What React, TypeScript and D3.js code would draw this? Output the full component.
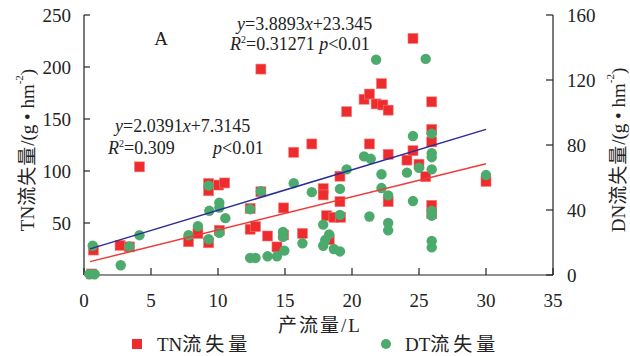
import React from "react";
import * as d3 from "d3";

// TN loss (left axis): runoff x (L), TN (g·hm-2)
const tnX = [0.57, 0.7, 2.69, 3.39, 4.14, 7.8, 8.5, 9.3, 9.3, 10.05, 10.5, 9.3, 10.1, 12.4, 12.4, 12.8, 13.2, 13.7, 14.4, 14.9, 14.9, 16.3, 15.65, 13.2, 17.0, 17.85, 17.85, 18.1, 18.65, 19.15, 18.3, 19.1, 19.1, 19.6, 20.9, 21.3, 21.8, 22.2, 22.3, 22.7, 21.3, 22.7, 22.7, 24.1, 24.55, 24.55, 25.0, 25.5, 25.95, 25.95, 25.95, 25.95, 25.95, 30.0];
const tnY = [1, 24, 28.5, 27, 104, 32, 40, 88, 81, 86.5, 88.5, 31, 43, 64, 44, 46.5, 80, 37.5, 27, 64.5, 38.5, 40, 118, 198, 126, 83, 77, 57, 55.5, 55.5, 34, 95, 70.5, 157, 169, 174, 164.5, 184, 163.5, 158.5, 126, 116, 70.5, 110.5, 119.5, 227.5, 106.5, 94.5, 166.5, 140, 128, 67, 59, 90];

// DN loss (right axis)
const dnX = [0.4, 0.8, 0.65, 2.74, 3.39, 4.14, 7.8, 8.5, 9.3, 9.35, 9.3, 10.1, 10.1, 10.55, 10.1, 12.4, 13.2, 12.4, 12.8, 13.7, 14.4, 14.85, 14.85, 14.95, 15.65, 16.3, 17.0, 17.85, 18.3, 18.0, 17.85, 18.65, 19.1, 19.1, 19.1, 19.6, 20.9, 21.4, 21.3, 21.8, 22.2, 22.2, 22.7, 22.7, 22.7, 24.1, 24.55, 24.55, 25.0, 25.5, 25.95, 25.95, 25.95, 25.95, 25.95, 25.95, 25.95, 25.95, 30.0];
const dnY = [0.5, 0.5, 18, 6, 17.5, 24.5, 24.5, 30, 55, 39.5, 22, 44.5, 41.5, 35, 26, 40.5, 51.5, 10.5, 10.5, 11.5, 11.5, 26.5, 23.5, 15, 56.5, 19.5, 51, 31, 25, 21.5, 18, 16, 14.5, 53, 37, 65, 73, 71.5, 36, 132.5, 62, 53.5, 49, 32, 27.5, 63, 85.5, 45.5, 66, 133, 87, 75, 72.5, 65, 39.5, 36.5, 21, 17, 61.5];

const xTicks = [0, 5, 10, 15, 20, 25, 30, 35];
const tnTicks = [50, 100, 150, 200, 250];
const dnTicks = [0, 40, 80, 120, 160];

const tnFit = { slope: 3.8893, intercept: 23.345 };
const dnFit = { slope: 2.0391, intercept: 7.3145 };

const RED = "#ee2b2d";
const GREEN = "#4caa6d";
const BLUE = "#2b2b9a";
const FONT = "'Liberation Serif', 'Noto Sans CJK SC', serif";

export default function App() {
  const left = 84, right = 553, top = 15, bottom = 275;
  const x = d3.scaleLinear().domain([0, 35]).range([left, right]);
  const yL = d3.scaleLinear().domain([0, 250]).range([bottom, top]);
  const yR = d3.scaleLinear().domain([0, 160]).range([bottom, top]);

  const allX = [...tnX, ...dnX];
  const [x0, x1] = d3.extent(allX) as [number, number];
  const xs = [Math.max(x0, 0.45), x1];
  const tnLine = d3.line<number>().x((v) => x(v)).y((v) => yL(tnFit.slope * v + tnFit.intercept));
  const dnLine = d3.line<number>().x((v) => x(v)).y((v) => yR(dnFit.slope * v + dnFit.intercept));

  const sq = 10;
  const fs = 19;

  return (
    <svg width={630} height={356} style={{ position: "absolute", left: 0, top: 0, background: "#fff" }} fontFamily={FONT}>
      {/* axes */}
      <line x1={left} x2={left} y1={top} y2={bottom} stroke="#222" strokeWidth={1.2} />
      <line x1={right} x2={right} y1={top} y2={bottom} stroke="#222" strokeWidth={1.2} />
      <line x1={left} x2={right} y1={bottom} y2={bottom} stroke="#222" strokeWidth={1.2} />
      {tnTicks.map((t) => (
        <g key={"l" + t}>
          <line x1={left} x2={left + 6} y1={yL(t)} y2={yL(t)} stroke="#222" strokeWidth={1.2} />
          <text x={left - 13} y={yL(t)} textAnchor="end" dominantBaseline="central" fontSize={fs} fill="#222">{t}</text>
        </g>
      ))}
      {dnTicks.map((t) => (
        <g key={"r" + t}>
          <line x1={right - 7} x2={right} y1={yR(t)} y2={yR(t)} stroke="#222" strokeWidth={1.2} />
          <text x={right + 14} y={yR(t)} textAnchor="start" dominantBaseline="central" fontSize={fs} fill="#222">{t}</text>
        </g>
      ))}
      {xTicks.map((t) => (
        <g key={"x" + t}>
          <line x1={x(t)} x2={x(t)} y1={bottom - 7} y2={bottom} stroke="#222" strokeWidth={1.2} />
          <text x={x(t)} y={300} textAnchor="middle" dominantBaseline="central" fontSize={fs} fill="#222">{t}</text>
        </g>
      ))}

      {/* points */}
      {tnX.map((v, i) => (
        <rect key={"tn" + i} x={x(v) - sq / 2} y={yL(tnY[i]) - sq / 2} width={sq} height={sq} fill={RED} stroke="#f47a7a" strokeWidth={0.6} />
      ))}
      {dnX.map((v, i) => (
        <circle key={"dn" + i} cx={x(v)} cy={yR(dnY[i])} r={5.2} fill={GREEN} />
      ))}

      {/* fits */}
      <path d={tnLine(xs) || ""} stroke={BLUE} strokeWidth={1.5} fill="none" />
      <path d={dnLine(xs) || ""} stroke="#f03a3a" strokeWidth={1.5} fill="none" />

      {/* annotations */}
      <text x={161} y={38} textAnchor="middle" dominantBaseline="central" fontSize={19} fill="#222">A</text>
      <text x={237} y={30} fontSize={18} fill="#222">
        <tspan fontStyle="italic">y</tspan>=3.8893<tspan fontStyle="italic">x</tspan>+23.345
      </text>
      <text x={230} y={50} fontSize={18} fill="#222">
        <tspan fontStyle="italic">R</tspan><tspan fontSize={10} dy={-7}>2</tspan><tspan dy={7}>=0.31271 </tspan><tspan fontStyle="italic">p</tspan>&lt;0.01
      </text>
      <text x={115} y={132} fontSize={18} fill="#222">
        <tspan fontStyle="italic">y</tspan>=2.0391<tspan fontStyle="italic">x</tspan>+7.3145
      </text>
      <text x={108} y={154} fontSize={18} fill="#222">
        <tspan fontStyle="italic">R</tspan><tspan fontSize={10} dy={-7}>2</tspan><tspan dy={7}>=0.309</tspan>
      </text>
      <text x={213} y={154} fontSize={18} fill="#222">
        <tspan fontStyle="italic">p</tspan>&lt;0.01
      </text>

      {/* axis titles */}
      <text transform={`translate(27,${(top + bottom) / 2 + 5}) rotate(-90)`} textAnchor="middle" dominantBaseline="central" fontSize={19} fill="#222">
        TN<tspan letterSpacing={1}>流失量</tspan>/(g • hm<tspan fontSize={11} dy={-8}>-2</tspan><tspan dy={8}>)</tspan>
      </text>
      <text transform={`translate(618,${(top + bottom) / 2 + 5}) rotate(-90)`} textAnchor="middle" dominantBaseline="central" fontSize={19} fill="#222">
        DN<tspan letterSpacing={1}>流失量</tspan>/(g • hm<tspan fontSize={11} dy={-8}>-2</tspan><tspan dy={8}>)</tspan>
      </text>
      <text x={320} y={325} textAnchor="middle" dominantBaseline="central" fontSize={19} fill="#222" letterSpacing={2}>产流量/L</text>

      {/* legend */}
      <rect x={137 - 5} y={344 - 5} width={10} height={10} fill={RED} />
      <text x={157} y={344} dominantBaseline="central" fontSize={19} fill="#222">TN<tspan letterSpacing={4}>流失量</tspan></text>
      <circle cx={386} cy={344} r={5} fill={GREEN} />
      <text x={405} y={344} dominantBaseline="central" fontSize={19} fill="#222">DT<tspan letterSpacing={4}>流失量</tspan></text>
    </svg>
  );
}
